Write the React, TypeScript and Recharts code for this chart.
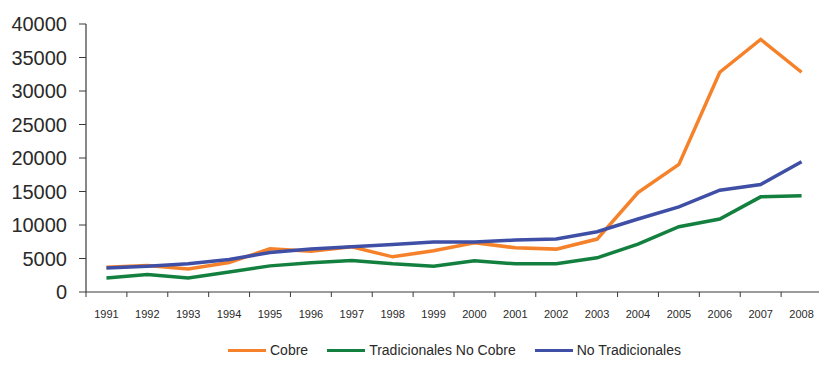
import { LineChart, Line, XAxis, YAxis } from 'recharts';

const years = ['1991', '1992', '1993', '1994', '1995', '1996', '1997', '1998', '1999', '2000', '2001', '2002', '2003', '2004', '2005', '2006', '2007', '2008'];
const cobre = [3700, 3950, 3450, 4400, 6450, 6100, 6750, 5250, 6150, 7350, 6600, 6400, 7900, 14850, 19050, 32800, 37700, 32800];
const tradicionalesNoCobre = [2100, 2600, 2100, 3000, 3900, 4350, 4700, 4200, 3850, 4650, 4200, 4230, 5100, 7150, 9750, 10900, 14200, 14350];
const noTradicionales = [3600, 3850, 4200, 4850, 5900, 6400, 6750, 7100, 7450, 7450, 7750, 7900, 9000, 10900, 12700, 15200, 16050, 19450];
const yTicks = [0, 5000, 10000, 15000, 20000, 25000, 30000, 35000, 40000];

const series = [
  { key: 'cobre', name: 'Cobre', color: '#F5822A' },
  { key: 'trad', name: 'Tradicionales No Cobre', color: '#14803F' },
  { key: 'noTrad', name: 'No Tradicionales', color: '#3F4FA6' },
];

const data = years.map((year, i) => ({
  year,
  cobre: cobre[i],
  trad: tradicionalesNoCobre[i],
  noTrad: noTradicionales[i],
}));

const FONT = '"Liberation Sans", Arial, sans-serif';
const AXIS = '#3a3a3a';

// category ticks sit between years, so draw the tick marks on band edges
const YearTick = (props: any) => {
  const { x, y, payload, index, width } = props;
  const band = (width || 736) / years.length;
  const left = x - band / 2;
  return (
    <g>
      <line x1={left} y1={y} x2={left} y2={y + 5} stroke={AXIS} strokeWidth={1} />
      {index === years.length - 1 && (
        <line x1={left + band} y1={y} x2={left + band} y2={y + 5} stroke={AXIS} strokeWidth={1} />
      )}
      <text x={x} y={y + 26} textAnchor="middle" fontSize={11} fill="#2a2a2a" fontFamily={FONT}>
        {payload.value}
      </text>
    </g>
  );
};

export default function App() {
  return (
    <div style={{ position: 'relative', width: 827, height: 379, margin: -8, background: '#fff', fontFamily: FONT }}>
      <LineChart width={827} height={379} data={data} margin={{ top: 24, right: 5, bottom: 57, left: 0 }}>
        <XAxis
          dataKey="year"
          scale="band"
          interval={0}
          height={30}
          tickSize={0}
          tickMargin={0}
          tickLine={false}
          axisLine={{ stroke: AXIS, strokeWidth: 1.2 }}
          tick={<YearTick />}
        />
        <YAxis
          width={86}
          domain={[0, 40000]}
          ticks={yTicks}
          interval={0}
          tickSize={7}
          tickMargin={12}
          axisLine={{ stroke: AXIS, strokeWidth: 1.2 }}
          tickLine={{ stroke: AXIS }}
          tick={{ fontSize: 20, fill: '#2a2a2a', fontFamily: FONT }}
        />
        {series.map((s) => (
          <Line
            key={s.key}
            type="linear"
            dataKey={s.key}
            name={s.name}
            stroke={s.color}
            strokeWidth={3.5}
            dot={false}
            activeDot={false}
            isAnimationActive={false}
          />
        ))}
      </LineChart>
      <div style={{ position: 'absolute', left: 228, top: 341, display: 'flex', alignItems: 'center', gap: 19 }}>
        {series.map((s) => (
          <div key={s.key} style={{ display: 'flex', alignItems: 'center' }}>
            <div style={{ width: 38, height: 3, background: s.color, marginRight: 4 }} />
            <span style={{ fontSize: 14, color: '#2a2a2a', lineHeight: '18px' }}>{s.name}</span>
          </div>
        ))}
      </div>
    </div>
  );
}
